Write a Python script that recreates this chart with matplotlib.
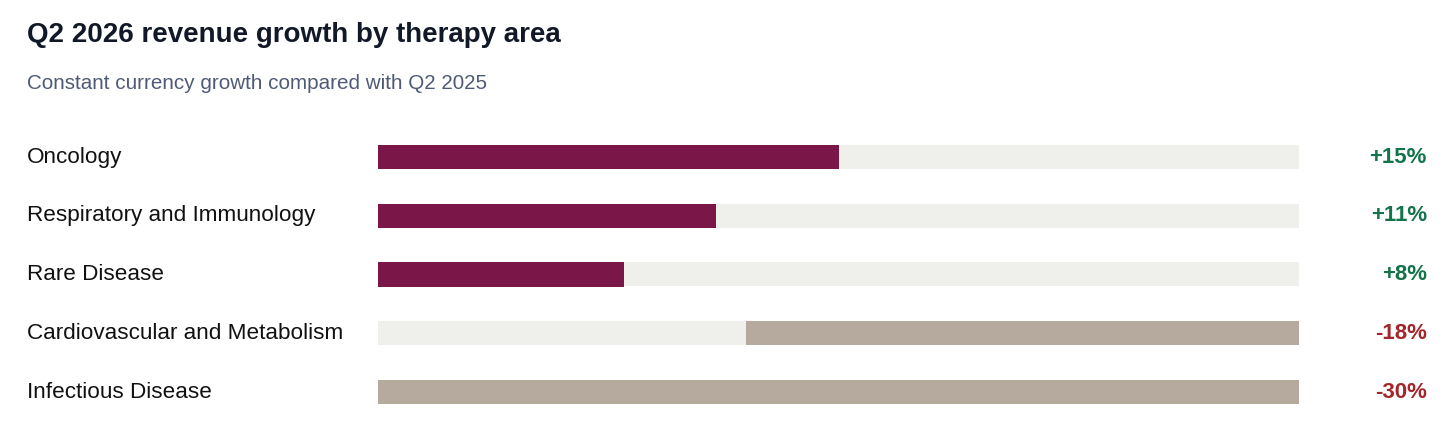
import numpy as np
import matplotlib
matplotlib.use('Agg')
import matplotlib.pyplot as plt

plt.rcParams['font.family'] = ['Liberation Sans', 'DejaVu Sans']

# datos
categorias = ['Oncology', 'Respiratory and Immunology', 'Rare Disease',
              'Cardiovascular and Metabolism', 'Infectious Disease']
crecimiento = [15, 11, 8, -18, -30]
etiquetas = ['+15%', '+11%', '+8%', '-18%', '-30%']
escala_max = 30

COL_POS = '#7b1648'
COL_NEG = '#b6a99d'
COL_PISTA = '#efefeb'
COL_VERDE = '#13744a'
COL_ROJO = '#a3262a'

W, H = 1456, 444
fig = plt.figure(figsize=(W / 100, H / 100), dpi=100)
fig.patch.set_facecolor('white')

# eje de barras: pixeles 378 -> 1299 en x, alto completo en y
ax = fig.add_axes([378 / W, 0, (1299 - 378) / W, 1])
paso = 58.75
y0 = 157
ax.set_ylim((H - y0) / paso, -y0 / paso)
ax.set_xlim(0, escala_max)
ax.axis('off')

pos = np.arange(len(categorias))
alto = 24 / paso
ax.barh(pos, [escala_max] * len(pos), height=alto, color=COL_PISTA, zorder=1)
for i, v in enumerate(crecimiento):
    if v >= 0:
        ax.barh(i, v, left=0, height=alto, color=COL_POS, zorder=2)
    else:
        ax.barh(i, -v, left=escala_max + v, height=alto, color=COL_NEG, zorder=2)

def fy(py):
    return 1 - py / H

fig.text(27 / W, fy(42), 'Q2 2026 revenue growth by therapy area', fontsize=20,
         fontweight='bold', color='#111827', ha='left', va='baseline')
fig.text(27 / W, fy(89), 'Constant currency growth compared with Q2 2025', fontsize=14.9,
         color='#4f5b76', ha='left', va='baseline')

for i, (c, e, v) in enumerate(zip(categorias, etiquetas, crecimiento)):
    yc = y0 + i * paso
    fig.text(27 / W, fy(yc), c, fontsize=16.2, color='#111111', ha='left', va='center')
    fig.text(1427 / W, fy(yc), e, fontsize=16, fontweight='bold',
             color=COL_VERDE if v >= 0 else COL_ROJO, ha='right', va='center')

plt.savefig('out.png', dpi=100, facecolor='white')
plt.close()
